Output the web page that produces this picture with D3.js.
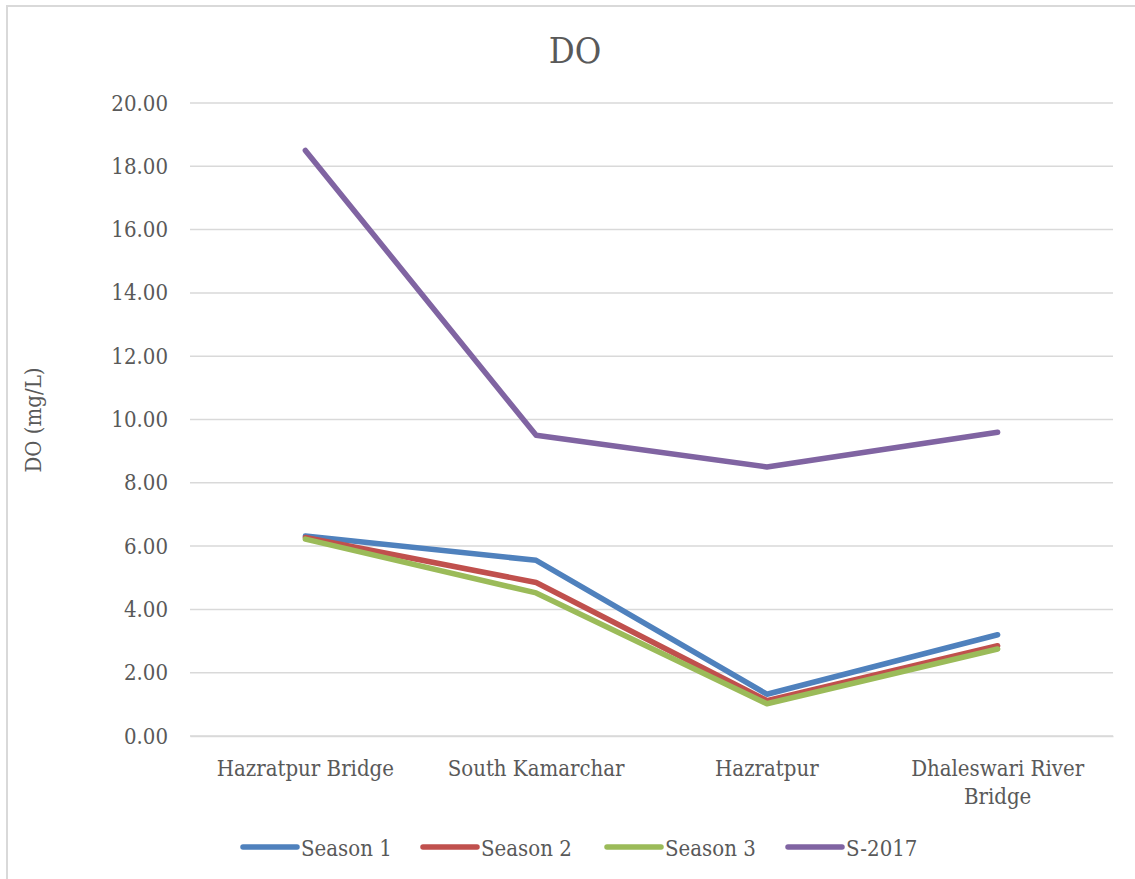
<!DOCTYPE html>
<html>
<head>
<meta charset="utf-8">
<script src="https://cdn.jsdelivr.net/npm/d3@7"></script>
<style>
  html, body { margin: 0; padding: 0; background: #ffffff; }
  svg { display: block; }
  text { font-family: "DejaVu Serif Condensed", "DejaVu Serif", serif; fill: #595959; }
</style>
</head>
<body>
<svg id="chart" width="1135" height="879"></svg>
<script>
// Sampling sites along the river
const sites = ["Hazratpur Bridge", "South Kamarchar", "Hazratpur", "Dhaleswari River Bridge"];

// Dissolved oxygen (mg/L) per season at each site
const season1 = [6.32, 5.55, 1.32, 3.20];
const season2 = [6.27, 4.85, 1.12, 2.85];
const season3 = [6.22, 4.52, 1.02, 2.75];
const s2017   = [18.50, 9.50, 8.50, 9.60];

const seriesNames  = ["Season 1", "Season 2", "Season 3", "S-2017"];
const seriesColors = ["#4f81bd", "#c0504d", "#9bbb59", "#8064a2"];
const yTicks = [0, 2, 4, 6, 8, 10, 12, 14, 16, 18, 20];

const series = [season1, season2, season3, s2017].map((vals, i) => ({
  name: seriesNames[i], color: seriesColors[i], values: vals
}));

const svg = d3.select("#chart");
const W = 1135, H = 879;
const plot = { left: 190, right: 1113, top: 103, bottom: 736 };

// Outer chart border
svg.append("path")
  .attr("d", `M7,${H} V6 H${W}`)
  .attr("fill", "none")
  .attr("stroke", "#d9d9d9")
  .attr("stroke-width", 2);

const x = d3.scaleBand().domain(sites).range([plot.left, plot.right]);
const y = d3.scaleLinear().domain([0, 20]).range([plot.bottom, plot.top]);

// Horizontal gridlines
svg.append("g")
  .selectAll("line")
  .data(yTicks)
  .join("line")
  .attr("x1", plot.left).attr("x2", plot.right)
  .attr("y1", d => y(d)).attr("y2", d => y(d))
  .attr("stroke", "#d9d9d9")
  .attr("stroke-width", 1.5);

// Y axis tick labels
const yAxis = d3.axisLeft(y).tickValues(yTicks).tickFormat(d3.format(".2f")).tickSize(0).tickPadding(22);
const gy = svg.append("g").attr("transform", `translate(${plot.left},0)`).call(yAxis);
gy.select(".domain").remove();
gy.selectAll("text")
  .attr("font-size", 22)
  .attr("fill", "#595959")
  .style("font-family", '"DejaVu Serif Condensed", "DejaVu Serif", serif');

// X axis category labels (wrapped to band width)
const xAxis = d3.axisBottom(x).tickSize(0).tickPadding(0).tickFormat("");
const gx = svg.append("g").attr("transform", `translate(0,${plot.bottom})`).call(xAxis);
gx.select(".domain").attr("stroke", "#d9d9d9").attr("stroke-width", 1.5);

const xLabels = svg.append("g");
sites.forEach(s => {
  const t = xLabels.append("text")
    .attr("x", x(s) + x.bandwidth() / 2)
    .attr("y", 776)
    .attr("text-anchor", "middle")
    .attr("font-size", 22);
  const words = s.split(" ");
  let line = [], lineNo = 0;
  let tspan = t.append("tspan").attr("x", x(s) + x.bandwidth() / 2).attr("dy", 0);
  words.forEach(w => {
    line.push(w);
    tspan.text(line.join(" "));
    if (tspan.node().getComputedTextLength() > x.bandwidth() - 20 && line.length > 1) {
      line.pop();
      tspan.text(line.join(" "));
      line = [w];
      lineNo++;
      tspan = t.append("tspan").attr("x", x(s) + x.bandwidth() / 2).attr("dy", 28).text(w);
    }
  });
});

// Chart title
svg.append("text")
  .attr("x", 575).attr("y", 63)
  .attr("text-anchor", "middle")
  .attr("font-size", 36)
  .text("DO");

// Y axis title
svg.append("text")
  .attr("transform", `translate(41,420) rotate(-90)`)
  .attr("text-anchor", "middle")
  .attr("font-size", 22)
  .text("DO (mg/L)");

// Series lines
const line = d3.line()
  .x((d, i) => x(sites[i]) + x.bandwidth() / 2)
  .y(d => y(d));

svg.append("g")
  .selectAll("path")
  .data(series)
  .join("path")
  .attr("d", d => line(d.values))
  .attr("fill", "none")
  .attr("stroke", d => d.color)
  .attr("stroke-width", 5.5)
  .attr("stroke-linejoin", "round")
  .attr("stroke-linecap", "round");

// Legend
const legendX = [243, 423, 607, 788];
const lg = svg.append("g");
series.forEach((s, i) => {
  const g = lg.append("g").attr("transform", `translate(${legendX[i]},847)`);
  g.append("line")
    .attr("x1", 0).attr("x2", 54)
    .attr("y1", 0).attr("y2", 0)
    .attr("stroke", s.color)
    .attr("stroke-width", 5.5)
    .attr("stroke-linecap", "round");
  g.append("text")
    .attr("x", 58).attr("y", 9)
    .attr("font-size", 22)
    .text(s.name);
});
</script>
</body>
</html>
